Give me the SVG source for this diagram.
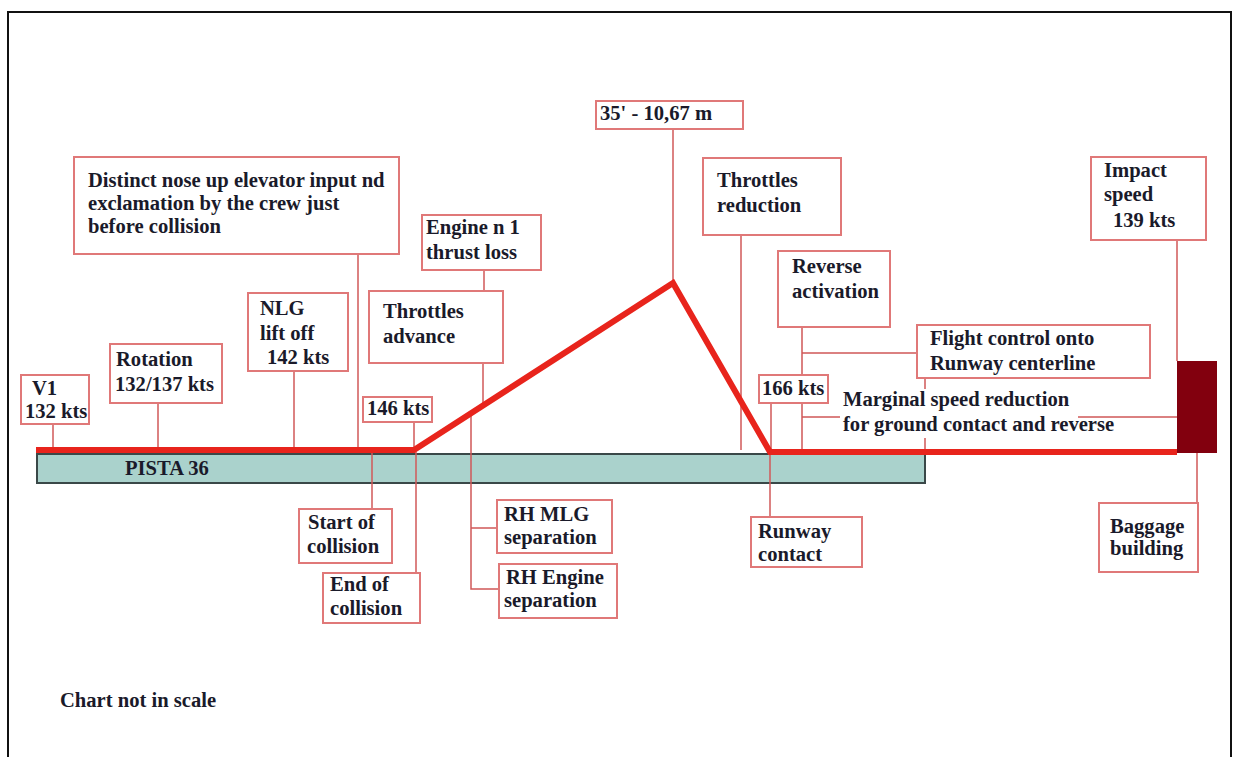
<svg xmlns="http://www.w3.org/2000/svg" width="1236" height="757" viewBox="0 0 1236 757">
<style>
.box{fill:#ffffff;stroke:#e07878;stroke-width:2}
.t{font-family:"Liberation Serif","Times New Roman",serif;font-weight:bold;font-size:20.6px;fill:#1a1a2a}
.c{stroke:#d05858;stroke-width:1.5;fill:none}
</style>
<rect x="0" y="0" width="1236" height="757" fill="#ffffff"/>
<path d="M8,760 V12 H1231 V760" fill="none" stroke="#111" stroke-width="2"/>

<g id="runway">
<rect x="37" y="454" width="888" height="29" fill="#aad2cc" stroke="#3a4848" stroke-width="2"/>
<text class="t" x="125" y="475">PISTA 36</text>
</g>

<g id="connectors">
<line class="c" x1="53" y1="424" x2="53" y2="448"/>
<line class="c" x1="158" y1="403" x2="158" y2="448"/>
<line class="c" x1="294" y1="371" x2="294" y2="448"/>
<line class="c" x1="358" y1="254" x2="358" y2="448"/>
<line class="c" x1="414" y1="422" x2="414" y2="448"/>
<line class="c" x1="372" y1="452" x2="372" y2="509"/>
<line class="c" x1="416" y1="452" x2="416" y2="573"/>
<line class="c" x1="484" y1="270" x2="484" y2="291"/>
<line class="c" x1="483" y1="363" x2="483" y2="405"/>
<path class="c" d="M471,414 V589 H499 M471,528 H497"/>
<line class="c" x1="673" y1="129" x2="673" y2="283"/>
<line class="c" x1="741" y1="235" x2="741" y2="450"/>
<path class="c" d="M802,327 V450 M802,353 H917 M802,417 H840 M1078,417 H1177"/>
<path class="c" d="M925,378 V389 M925,438 V452"/>
<line class="c" x1="771" y1="403" x2="771" y2="452"/>
<line class="c" x1="770" y1="452" x2="770" y2="517"/>
<line class="c" x1="1177" y1="240" x2="1177" y2="361"/>
<line class="c" x1="1197" y1="453" x2="1197" y2="503"/>
</g>

<g id="flightpath">
<polyline points="36,450 414,450 673,283 770,452 1177,452" fill="none" stroke="#e8241c" stroke-width="6" stroke-linejoin="miter"/>
</g>

<g id="baggage-building-block">
<rect x="1177" y="361" width="40" height="92" fill="#82000e"/>
</g>

<g id="n-distinct"><rect class="box" x="74" y="157" width="325" height="97"/>
<text class="t" x="88" y="187">Distinct nose up elevator input nd</text>
<text class="t" x="88" y="210">exclamation by the crew just</text>
<text class="t" x="88" y="233">before collision</text></g>

<g id="n-v1"><rect class="box" x="21" y="375" width="68" height="49"/>
<text class="t" x="32" y="395">V1</text>
<text class="t" x="25" y="418">132 kts</text></g>

<g id="n-rotation"><rect class="box" x="110" y="344" width="112" height="59"/>
<text class="t" x="116" y="366">Rotation</text>
<text class="t" x="115" y="391">132/137 kts</text></g>

<g id="n-nlg"><rect class="box" x="248" y="293" width="100" height="78"/>
<text class="t" x="260" y="315">NLG</text>
<text class="t" x="260" y="340">lift off</text>
<text class="t" x="267" y="364">142 kts</text></g>

<g id="n-146"><rect class="box" x="363" y="397" width="69" height="25"/>
<text class="t" x="367" y="415">146 kts</text></g>

<g id="n-engine1"><rect class="box" x="422" y="215" width="119" height="55"/>
<text class="t" x="426" y="234">Engine n 1</text>
<text class="t" x="426" y="259">thrust loss</text></g>

<g id="n-thr-adv"><rect class="box" x="369" y="291" width="134" height="72"/>
<text class="t" x="383" y="318">Throttles</text>
<text class="t" x="383" y="343">advance</text></g>

<g id="n-35"><rect class="box" x="596" y="101" width="147" height="28"/>
<text class="t" x="600" y="120">35' - 10,67 m</text></g>

<g id="n-thr-red"><rect class="box" x="703" y="158" width="138" height="77"/>
<text class="t" x="717" y="187">Throttles</text>
<text class="t" x="717" y="212">reduction</text></g>

<g id="n-reverse"><rect class="box" x="778" y="251" width="112" height="76"/>
<text class="t" x="792" y="273">Reverse</text>
<text class="t" x="792" y="298">activation</text></g>

<g id="n-flight"><rect class="box" x="917" y="325" width="233" height="53"/>
<text class="t" x="930" y="345">Flight control onto</text>
<text class="t" x="930" y="370">Runway centerline</text></g>

<g id="n-166"><rect class="box" x="759" y="375" width="69" height="28"/>
<text class="t" x="762" y="395">166 kts</text></g>

<g id="n-marginal">
<text class="t" x="843" y="406">Marginal speed reduction</text>
<text class="t" x="843" y="431">for ground contact and reverse</text></g>

<g id="n-impact"><rect class="box" x="1091" y="157" width="115" height="83"/>
<text class="t" x="1104" y="177">Impact</text>
<text class="t" x="1104" y="201">speed</text>
<text class="t" x="1113" y="227">139 kts</text></g>

<g id="n-start"><rect class="box" x="299" y="509" width="93" height="54"/>
<text class="t" x="308" y="529">Start of</text>
<text class="t" x="307" y="553">collision</text></g>

<g id="n-end"><rect class="box" x="323" y="573" width="97" height="50"/>
<text class="t" x="330" y="591">End of</text>
<text class="t" x="330" y="615">collision</text></g>

<g id="n-rhmlg"><rect class="box" x="497" y="500" width="115" height="53"/>
<text class="t" x="504" y="521">RH MLG</text>
<text class="t" x="504" y="544">separation</text></g>

<g id="n-rheng"><rect class="box" x="499" y="564" width="118" height="54"/>
<text class="t" x="506" y="584">RH Engine</text>
<text class="t" x="504" y="607">separation</text></g>

<g id="n-rwcontact"><rect class="box" x="751" y="517" width="111" height="50"/>
<text class="t" x="758" y="538">Runway</text>
<text class="t" x="758" y="561">contact</text></g>

<g id="n-baggage"><rect class="box" x="1099" y="503" width="99" height="69"/>
<text class="t" x="1110" y="533">Baggage</text>
<text class="t" x="1110" y="555">building</text></g>

<g id="note"><text class="t" x="60" y="707">Chart not in scale</text></g>
</svg>
